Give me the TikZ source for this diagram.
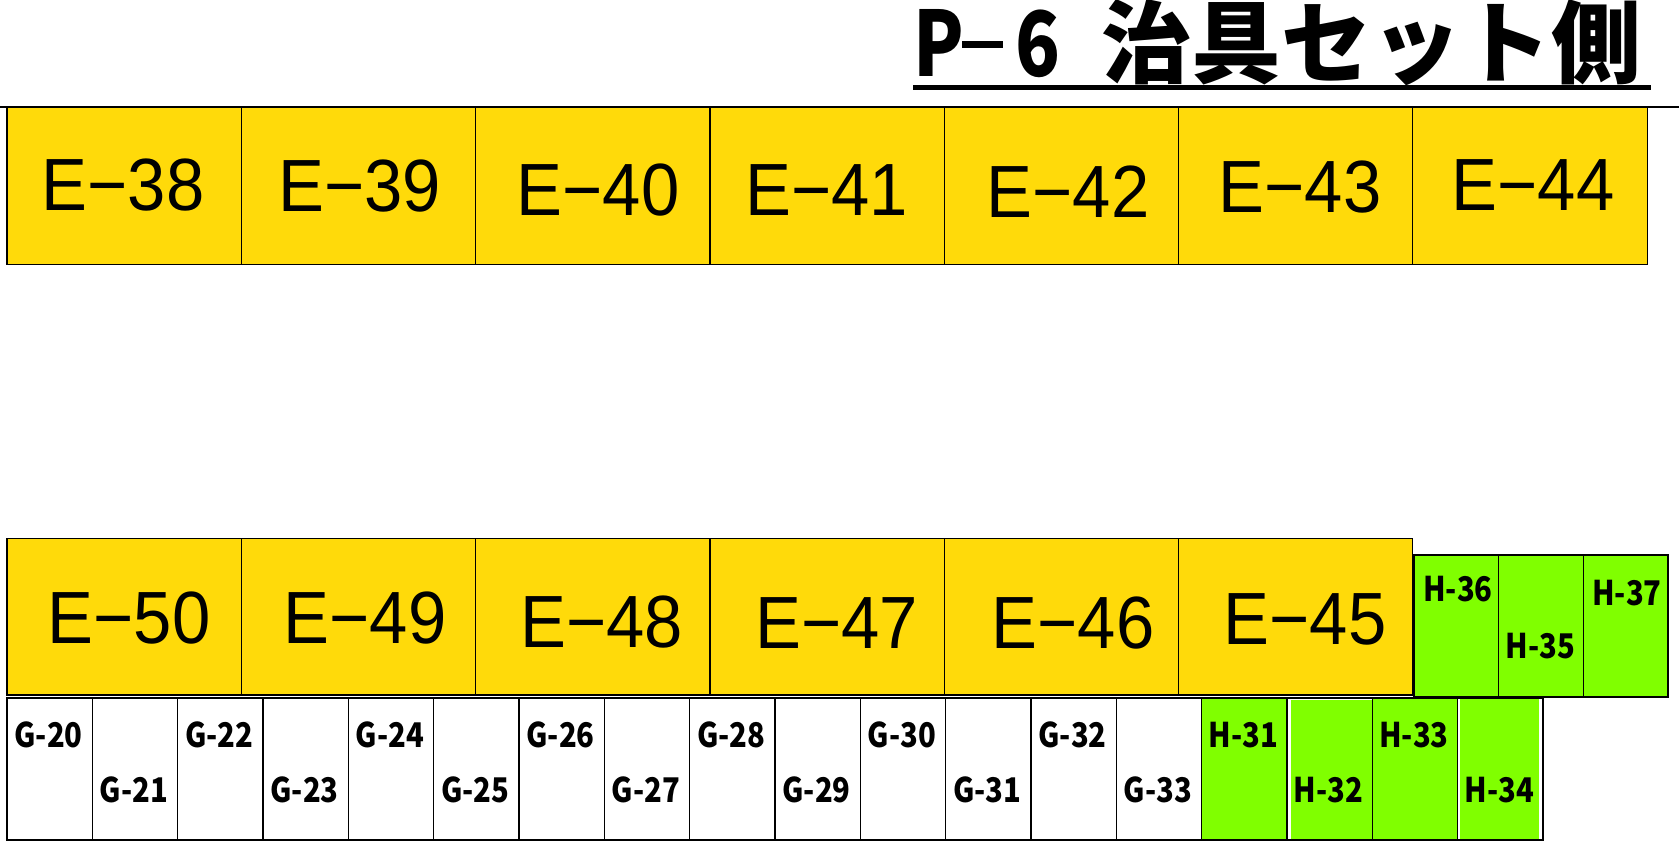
\documentclass[tikz,border=0pt]{standalone}
\usepackage{fontspec}
\setmainfont{Liberation Sans}
\newfontfamily\efont[FakeStretch=0.93]{Liberation Sans}
\newfontfamily\gfont[FakeStretch=0.86]{Noto Sans CJK JP}
\newfontfamily\titlecjk{Noto Sans CJK JP}
\newfontfamily\titlelatin[FakeStretch=0.82]{Noto Sans CJK JP}
\definecolor{eyellow}{RGB}{255,218,10}
\definecolor{hgreen}{RGB}{128,255,0}
\tikzset{
  cellbase/.style={draw=black, line width=1.2pt, inner sep=0pt, outer sep=0pt},
  ecell/.style={cellbase, fill=eyellow, minimum width=234.3pt, minimum height=156.5pt},
  gcell/.style={cellbase, fill=white, minimum width=85.33pt, minimum height=142pt},
  hcell/.style={cellbase, fill=hgreen, minimum width=85.33pt, minimum height=142pt},
  hupcell/.style={cellbase, fill=hgreen, minimum width=84.67pt, minimum height=142pt},
  elabel/.style={anchor=base, inner sep=0pt, font=\efont\fontsize{74}{74}\selectfont},
  glabel/.style={anchor=base, inner sep=0pt, font=\gfont\bfseries\fontsize{34}{34}\selectfont},
  titletext/.style={anchor=base west, inner sep=0pt, font=\titlecjk\bfseries\fontsize{90}{90}\selectfont},
  topline/.style={line width=1.6pt},
  uline/.style={line width=5pt}
}
\begin{document}
\begin{tikzpicture}[x=1pt,y=-1pt]
\useasboundingbox (0,0) rectangle (1679,848);
% title
\node[titletext] (title) at (913,77) {\makebox[188pt][l]{\titlelatin\bfseries\makebox[47pt][l]{P}\hspace*{2pt}\rule[28.5pt]{41pt}{7pt}\hspace*{12pt}6}治具セット側};
\coordinate (ulA) at (913,87.5);
\coordinate (ulB) at (1651,87.5);
\draw[uline] (ulA) -- (ulB);
% top E row
\foreach \n [count=\i from 0] in {38,...,44}
  \node[ecell] (e\n) at ({7+234.3*(\i+0.5)},186.1) {};
\coordinate (tlA) at (0,107.3);
\coordinate (tlB) at (1679,107.3);
\draw[topline] (tlA) -- (tlB);
\foreach \n/\x/\y in {38/123/210.7, 39/359.7/211.7, 40/598/215, 41/826.5/215, 42/1068/217, 43/1300/212, 44/1533/210}
  \node[elabel] (le\n) at (\x,\y) {E−\n};
% bottom E row
\foreach \n [count=\i from 0] in {50,49,48,47,46,45}
  \node[ecell] (e\n) at ({7+234.3*(\i+0.5)},616.75) {};
\foreach \n/\x/\y in {50/129/643, 49/365/643, 48/601.7/647.3, 47/836.7/648, 46/1073/648, 45/1305/644}
  \node[elabel] (le\n) at (\x,\y) {E−\n};
% upper H group
\foreach \n/\k in {36/0,35/1,37/2}
  \node[hupcell] (h\n) at ({1414+84.67*(\k+0.5)},626) {};
\node[glabel] (lh36) at (1458,601) {H-36};
\node[glabel] (lh35) at (1540.5,658) {H-35};
\node[glabel] (lh37) at (1627,605) {H-37};
% G row
\foreach \n [count=\i from 0, evaluate=\n as \yb using {ifthenelse(mod(\n,2)==0,747,802)}] in {20,...,33} {
  \node[gcell] (g\n) at ({7+85.33*(\i+0.5)},769) {};
  \node[glabel] (lg\n) at ({6+85.33*(\i+0.5)},\yb) {G-\n};
}
% lower H row
\node[hcell] (h31) at ({7+85.33*14.5},769) {};
\node[hcell, fill=white] (h32) at ({7+85.33*15.5},769) {};
\fill[hgreen] (1291,700) rectangle (1372.5,838.5);
\draw[cellbase] (h32.north west) rectangle (h32.south east);
\node[hcell] (h33) at ({7+85.33*16.5},769) {};
\node[hcell, fill=white] (h34) at ({7+85.33*17.5},769) {};
\fill[hgreen] (1460,698.6) rectangle (1538.5,839.4);
\draw[cellbase] (h34.north west) rectangle (h34.south east);
\foreach \n/\k/\yb in {31/14/747, 32/15/802, 33/16/747, 34/17/802}
  \node[glabel] (lh\n) at ({6+85.33*(\k+0.5)},\yb) {H-\n};
\end{tikzpicture}
\end{document}
